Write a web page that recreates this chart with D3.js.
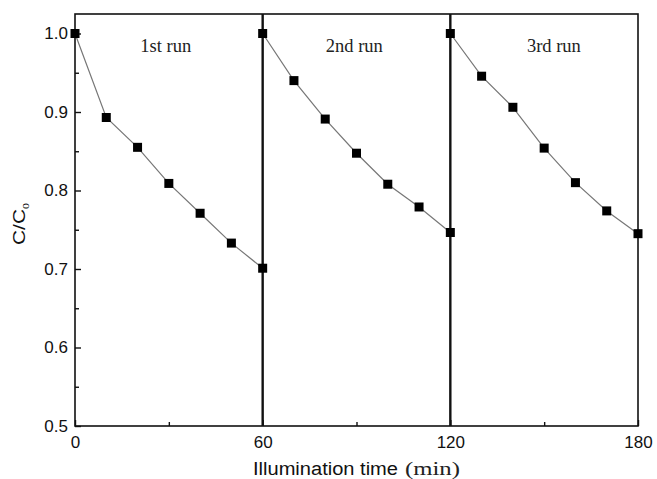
<!DOCTYPE html>
<html><head><meta charset="utf-8">
<script src="https://cdn.jsdelivr.net/npm/d3@7"></script>
<style>body{margin:0;background:#fff}svg{display:block}</style>
</head><body>
<svg id="c" width="657" height="479"></svg>
<script>
const times1 = [0,10,20,30,40,50,60];
const run1 = [1.0,0.893,0.855,0.809,0.771,0.733,0.701];
const times2 = [60,70,80,90,100,110,120];
const run2 = [1.0,0.940,0.891,0.8475,0.808,0.779,0.7465];
const times3 = [120,130,140,150,160,170,180];
const run3 = [1.0,0.9456,0.906,0.854,0.810,0.774,0.745];
const runLabels = ["1st run","2nd run","3rd run"];
const xTicks = [0,60,120,180];
const xMinor = [30,90,150];
const yTicks = [0.5,0.6,0.7,0.8,0.9,1.0];
const yMinor = [0.55,0.65,0.75,0.85,0.95];
const dividers = [60,120];

const svg = d3.select("#c");
const L=75, R=638, T=14, B=426;
const x = d3.scaleLinear().domain([0,180]).range([L,R]);
const y = d3.scaleLinear().domain([0.5,0.5+(B-T)/785]).range([B,T]);
const SANS = "Liberation Sans, Arial, sans-serif";
const SERIF = "Liberation Serif, Times New Roman, serif";

// frame
svg.append("rect").attr("x",L).attr("y",T).attr("width",R-L).attr("height",B-T)
  .attr("fill","none").attr("stroke","#111").attr("stroke-width",1.6);

function styleAxis(g){
  g.select(".domain").remove();
  g.selectAll("text").attr("font-family",SANS).attr("font-size","17px").attr("fill","#111");
  g.selectAll("line").attr("stroke","#111").attr("stroke-width",1.4);
}
// y axis
svg.append("g").attr("transform",`translate(${L},0)`)
  .call(d3.axisLeft(y).tickValues(yTicks).tickFormat(d3.format(".1f")).tickSize(-6).tickPadding(7)).call(styleAxis);
svg.append("g").attr("transform",`translate(${L},0)`)
  .call(d3.axisLeft(y).tickValues(yMinor).tickFormat("").tickSize(-4)).call(styleAxis);
// x axis
svg.append("g").attr("transform",`translate(0,${B})`)
  .call(d3.axisBottom(x).tickValues(xTicks).tickFormat(d3.format("d")).tickSize(-6).tickPadding(10)).call(styleAxis);
svg.append("g").attr("transform",`translate(0,${B})`)
  .call(d3.axisBottom(x).tickValues(xMinor).tickFormat("").tickSize(-4)).call(styleAxis);

// dividers
svg.selectAll(".div").data(dividers).enter().append("line")
  .attr("x1",d=>x(d)).attr("x2",d=>x(d)).attr("y1",T).attr("y2",B)
  .attr("stroke","#111").attr("stroke-width",2.4);

// series
const runs = [[times1,run1],[times2,run2],[times3,run3]];
const line = d3.line().x(d=>x(d[0])).y(d=>y(d[1]));
runs.forEach(([t,v])=>{
  const pts = t.map((tt,i)=>[tt,v[i]]);
  svg.append("path").datum(pts).attr("d",line).attr("fill","none")
    .attr("stroke","#777").attr("stroke-width",1.2);
  svg.selectAll(null).data(pts).enter().append("rect")
    .attr("x",d=>x(d[0])-4.5).attr("y",d=>y(d[1])-4.5).attr("width",9).attr("height",9)
    .attr("fill","#000");
});

// run labels (positioned in data units)
const labelPos = [29,89.3,153.1];
svg.selectAll(".rl").data(runLabels).enter().append("text")
  .attr("x",(d,i)=>x(labelPos[i])).attr("y",52).attr("text-anchor","middle")
  .attr("font-family",SERIF).attr("font-size","18.5px").attr("fill","#222")
  .text(d=>d);

// x title
svg.append("text").attr("x",253).attr("y",475)
  .attr("fill","#111").attr("font-size","18px").attr("font-family",SANS)
  .attr("textLength",145).attr("lengthAdjust","spacingAndGlyphs")
  .text("Illumination time");
svg.append("text").attr("x",405).attr("y",475)
  .attr("fill","#222").attr("font-size","19px").attr("font-family",SERIF)
  .attr("textLength",55).attr("lengthAdjust","spacingAndGlyphs")
  .text("(min)");

// y title
const yt = svg.append("text").attr("transform","translate(25,245) rotate(-90)")
  .attr("fill","#111").attr("font-size","17px").attr("font-family",SANS);
yt.append("tspan").attr("textLength",36).attr("lengthAdjust","spacingAndGlyphs").text("C/C");
yt.append("tspan").attr("font-size","12px").attr("dy",4).attr("font-family",SERIF).text("o");
</script>
</body></html>
